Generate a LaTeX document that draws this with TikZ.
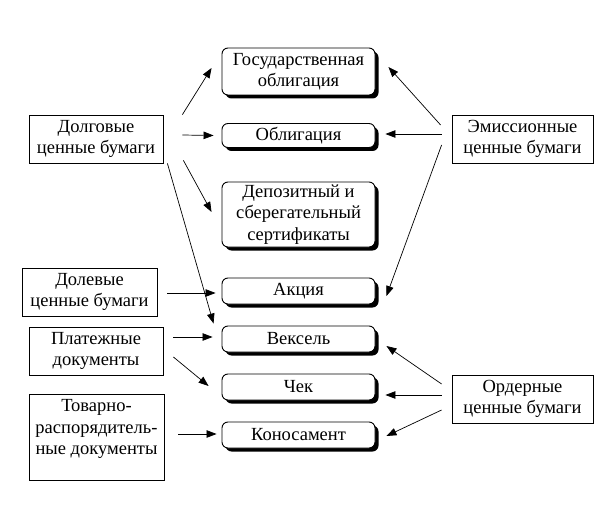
\documentclass[tikz,border=0pt]{standalone}
\usepackage{fontspec}
\setmainfont{Liberation Serif}
\usetikzlibrary{arrows.meta,calc,shadows}
\tikzset{
  mbox/.style={draw=black, line width=0.9pt, fill=white, rounded corners=6pt,
    minimum width=153pt, inner sep=1pt, align=center,
    drop shadow={shadow xshift=3.5pt, shadow yshift=-3.5pt, fill=black, opacity=1}},
  lbox/.style={draw=black, line width=0.8pt, fill=white, inner sep=1pt, align=center},
  arr/.style={line width=0.7pt, -{Triangle[length=10pt,width=7.5pt]}},
  txt/.style={font=\fontsize{18.5}{21.5}\selectfont}
}
\begin{document}
\begin{tikzpicture}[x=1pt,y=-1pt,txt]
\useasboundingbox (0,0) rectangle (614,519);
% middle boxes
\node[mbox, minimum height=47pt] (gos) at (298.5,71.5) {Государственная\\облигация};
\node[mbox, minimum height=24pt] (obl) at (298.5,135.5) {Облигация};
\node[mbox, minimum height=65pt] (dep) at (298.5,214.5) {Депозитный и\\сберегательный\\сертификаты};
\node[mbox, minimum height=26pt] (akc) at (298.5,291) {Акция};
\node[mbox, minimum height=26pt] (veks) at (298.5,339) {Вексель};
\node[mbox, minimum height=26pt] (chek) at (298.5,387) {Чек};
\node[mbox, minimum height=26pt] (kon) at (298.5,435) {Коносамент};
% left boxes
\node[lbox, minimum width=134pt, minimum height=48pt] (dolg) at (96,139) {Долговые\\ценные бумаги};
\node[lbox, minimum width=135pt, minimum height=48pt] (dolev) at (89.5,292) {Долевые\\ценные бумаги};
\node[lbox, minimum width=134pt, minimum height=48pt] (plat) at (96,351) {Платежные\\документы};
\node[lbox, minimum width=135pt, minimum height=86pt] (tov) at (96.5,437) {Товарно-\\распорядитель-\\ные документы\\[-2pt]\mbox{}};
% right boxes
\node[lbox, minimum width=141pt, minimum height=48pt] (emis) at (522.5,139) {Эмиссионные\\ценные бумаги};
\node[lbox, minimum width=141pt, minimum height=48pt] (order) at (522.5,399) {Ордерные\\ценные бумаги};
% arrows from left
\draw[arr] ($(dolg.north east)+(19,0)$) -- ($(gos.west)+(-10,-3.5)$);
\draw[arr] ($(dolg.east)+(19,-4)$) -- ($(obl.west)+(-8,0)$);
\draw[arr] ($(dolg.south east)+(20,-3)$) -- ($(dep.west)+(-10,-2.5)$);
\draw[arr] ($(dolg.south east)+(4,0)$) -- ($(veks.north west)+(-8,-2)$);
\draw[arr] ($(dolev.east)+(10,1)$) -- ($(akc.west)+(-6,2)$);
\draw[arr] ($(plat.east)+(10,-14)$) -- ($(veks.west)+(-9,-2)$);
\draw[arr] ($(plat.east)+(10,6)$) -- ($(chek.west)+(-13,-1)$);
\draw[arr] ($(tov.east)+(14,-3)$) -- ($(kon.west)+(-5,-1)$);
% arrows from right
\draw[arr] ($(emis.west)+(-11,-14)$) -- ($(gos.east)+(13,-4.5)$);
\draw[arr] ($(emis.west)+(-10,-5)$) -- ($(obl.east)+(10,-1.5)$);
\draw[arr] ($(emis.west)+(-10,6)$) -- ($(akc.east)+(11,5)$);
\draw[arr] ($(order.west)+(-10,-15)$) -- ($(veks.east)+(11,7)$);
\draw[arr] ($(order.west)+(-10,-4)$) -- ($(chek.east)+(10,8)$);
\draw[arr] ($(order.west)+(-10,11)$) -- ($(kon.east)+(11,1)$);
\end{tikzpicture}
\end{document}
